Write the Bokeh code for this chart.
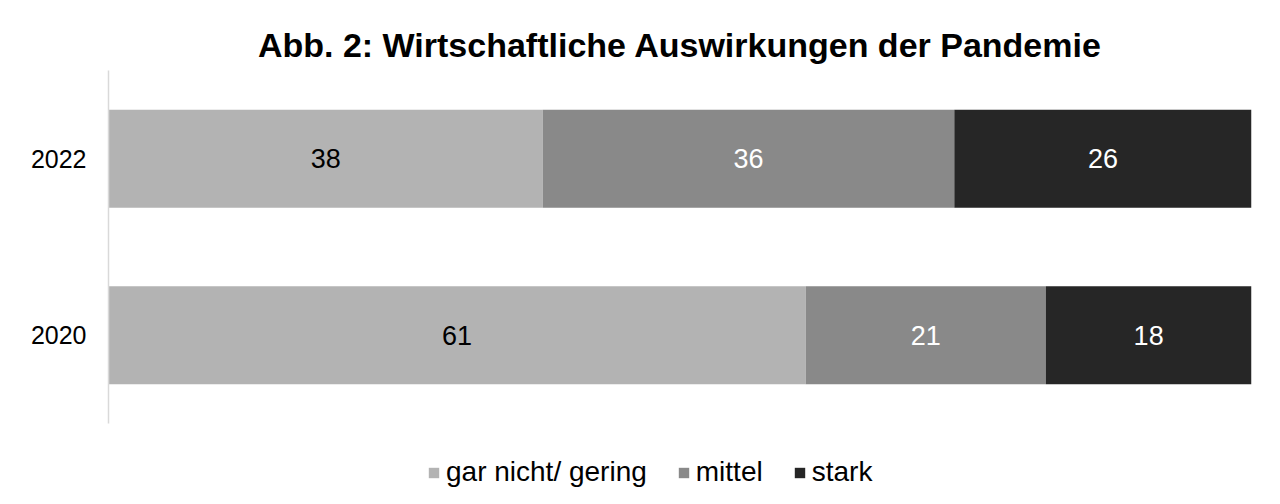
from bokeh.plotting import figure
from bokeh.models import ColumnDataSource, Legend, LegendItem, FactorRange
from bokeh.layouts import column
from bokeh.core.properties import value
from bokeh.embed import file_html
from bokeh.resources import INLINE

years = ["2020", "2022"]
gering = [61, 38]
mittel = [21, 36]
stark = [18, 26]
series = ["gar nicht/ gering", "mittel", "stark"]
colors = ["#b3b3b3", "#898989", "#262626"]
label_colors = ["black", "white", "white"]

FONT = "Liberation Sans"

p = figure(y_range=FactorRange(factors=years),
           x_range=(0, 100), width=1270, height=440,
           output_backend="svg", toolbar_location=None,
           min_border_left=108, min_border_right=19,
           min_border_top=70, min_border_bottom=17)

p.title.text = "Abb. 2: Wirtschaftliche Auswirkungen der Pandemie"
p.title.text_font = FONT
p.title.text_font_size = "34px"
p.title.text_font_style = "bold"
p.title.align = "center"
p.title.text_color = "black"
p.title.standoff = 14

src = ColumnDataSource(dict(year=years, gering=gering, mittel=mittel, stark=stark))
cols = ["gering", "mittel", "stark"]
p.hbar_stack(cols, y="year", height=0.555, color=colors,
             line_color=None, source=src)

# segment labels
vals = [gering, mittel, stark]
left = [0] * len(years)
for i, v in enumerate(vals):
    mid = [l + x / 2 for l, x in zip(left, v)]
    p.text(x=mid, y=years, text=[str(x) for x in v],
           text_align="center", text_baseline="middle",
           text_font=value(FONT), text_font_size="27px",
           text_color=label_colors[i])
    left = [l + x for l, x in zip(left, v)]

p.xaxis.visible = False
p.xgrid.visible = False
p.ygrid.visible = False
p.yaxis.axis_line_color = "#d9d9d9"
p.yaxis.axis_line_width = 1.5
p.yaxis.major_tick_line_color = None
p.yaxis.minor_tick_line_color = None
p.yaxis.major_label_text_font = FONT
p.yaxis.major_label_text_font_size = "25px"
p.yaxis.major_label_text_color = "black"
p.yaxis.major_label_standoff = 16
p.outline_line_color = None

# legend lives in its own strip below the chart
lg = figure(x_range=(0, 1), y_range=(0, 1), width=1270, height=60,
            output_backend="svg", toolbar_location=None,
            min_border=0)
lg.axis.visible = False
lg.grid.visible = False
lg.outline_line_color = None
items = []
for s, c in zip(series, colors):
    # off-screen box, only used for the legend swatch
    r = lg.quad(left=[-5], right=[-4], bottom=[-5], top=[-4],
                color=c, line_color=None)
    items.append(LegendItem(label=s, renderers=[r]))
legend = Legend(items=items, orientation="horizontal", location=(319, 12),
                label_text_font=FONT, label_text_font_size="28px",
                label_text_color="black",
                glyph_width=13, glyph_height=13, spacing=30,
                label_standoff=6, border_line_color=None,
                background_fill_alpha=0, margin=0, padding=4)
lg.add_layout(legend)

layout = column(p, lg, spacing=0)
open("out.html", "w").write(file_html(layout, INLINE))
